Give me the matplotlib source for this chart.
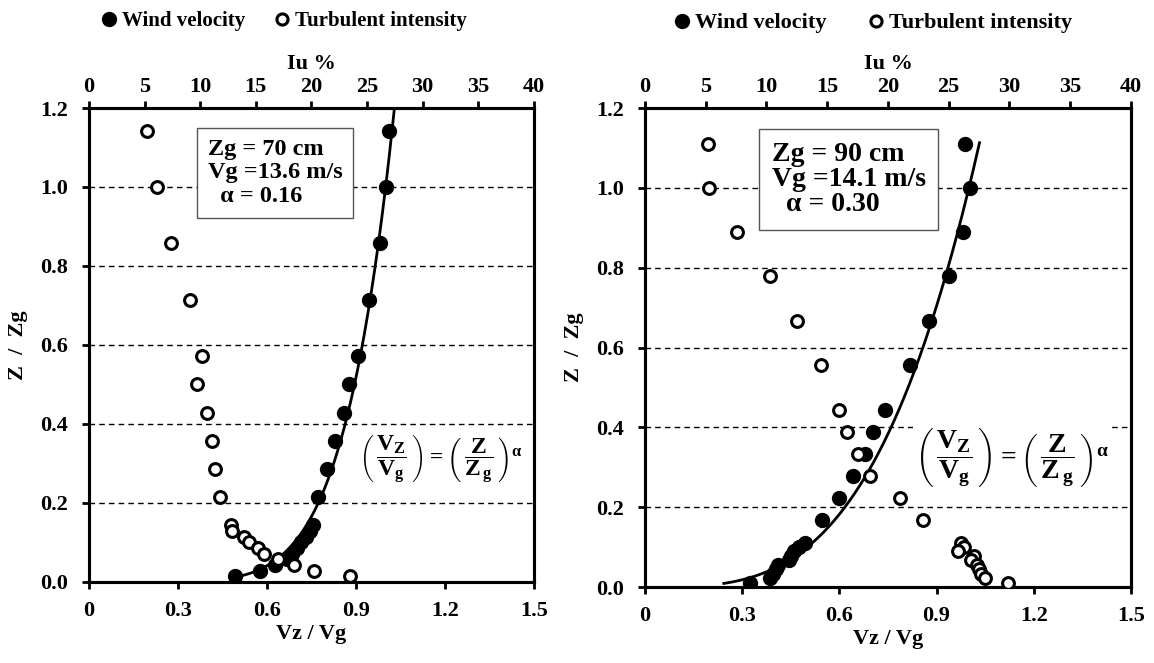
import numpy as np
import matplotlib
matplotlib.use('Agg')
import matplotlib.pyplot as plt
from matplotlib.lines import Line2D

plt.rcParams['font.family'] = 'Liberation Serif'
plt.rcParams['font.weight'] = 'bold'
plt.rcParams['mathtext.fontset'] = 'custom'
plt.rcParams['mathtext.rm'] = 'Liberation Serif:bold'
plt.rcParams['mathtext.it'] = 'Liberation Serif:bold'
plt.rcParams['mathtext.bf'] = 'Liberation Serif:bold'

# ---- left panel: Zg = 70 cm ----
zg70_vel_z = [1.143, 1.0, 0.857, 0.714, 0.571, 0.5, 0.429, 0.357, 0.286, 0.214,
              0.143, 0.129, 0.114, 0.10, 0.086, 0.071, 0.057, 0.043, 0.029, 0.014]
zg70_vel_v = [1.012, 1.001, 0.981, 0.943, 0.906, 0.875, 0.861, 0.830, 0.801, 0.773,
              0.756, 0.745, 0.730, 0.715, 0.700, 0.685, 0.668, 0.627, 0.576, 0.492]
zg70_iu_z = [1.143, 1.0, 0.857, 0.714, 0.571, 0.5, 0.429, 0.357, 0.286, 0.214,
             0.143, 0.129, 0.114, 0.10, 0.086, 0.071, 0.057, 0.043, 0.029, 0.014]
zg70_iu = [5.2, 6.1, 7.4, 9.1, 10.2, 9.7, 10.6, 11.1, 11.3, 11.8,
           12.8, 12.9, 13.9, 14.4, 15.2, 15.7, 17.0, 18.4, 20.2, 23.5]

# ---- right panel: Zg = 90 cm ----
zg90_vel_z = [1.111, 1.0, 0.889, 0.778, 0.667, 0.556, 0.444, 0.389, 0.333, 0.278,
              0.222, 0.167, 0.111, 0.10, 0.089, 0.078, 0.067, 0.056, 0.044, 0.033,
              0.022, 0.011]
zg90_vel_v = [0.988, 1.003, 0.981, 0.939, 0.876, 0.819, 0.741, 0.705, 0.679, 0.643,
              0.600, 0.545, 0.494, 0.475, 0.460, 0.450, 0.445, 0.410, 0.405, 0.396,
              0.385, 0.324]
zg90_iu_z = [1.111, 1.0, 0.889, 0.778, 0.667, 0.556, 0.444, 0.389, 0.333, 0.278,
             0.222, 0.167, 0.111, 0.10, 0.089, 0.078, 0.067, 0.056, 0.044, 0.033,
             0.022, 0.011]
zg90_iu = [5.2, 5.3, 7.6, 10.3, 12.5, 14.5, 16.0, 16.6, 17.5, 18.5,
           21.0, 22.9, 26.0, 26.3, 25.8, 27.1, 26.8, 27.3, 27.5, 27.7,
           28.0, 29.9]

x_ticks = [0, 0.3, 0.6, 0.9, 1.2, 1.5]
x_ticklabels = ['0', '0.3', '0.6', '0.9', '1.2', '1.5']
y_ticks = [0.0, 0.2, 0.4, 0.6, 0.8, 1.0, 1.2]
iu_ticks = [0, 5, 10, 15, 20, 25, 30, 35, 40]


def plot_panel(fig, rect, vel_z, vel_v, iu_z, iu, alpha, z_fit, info,
               leg_xy, leg_fs, leg_sp, eq_xy, eq_fs, box_xy, box_fs, box_ls):
    ax = fig.add_axes(rect)
    ax.set_xlim(0, 1.5)
    ax.set_ylim(0, 1.2)
    for y in y_ticks[1:-1]:
        ax.axhline(y, color='black', lw=1.0, ls=(0, (4, 3)), zorder=1)

    # power-law fit Vz/Vg = (Z/Zg)^alpha
    zz = np.linspace(z_fit[0], z_fit[1], 300)
    ax.plot(zz**alpha, zz, 'k-', lw=2.0, zorder=2)
    ax.plot(vel_v, vel_z, 'o', color='black', ms=10, zorder=3)

    ax.set_xticks(x_ticks)
    ax.set_xticklabels(x_ticklabels)
    ax.set_yticks(y_ticks)
    ax.set_yticklabels(['%.1f' % y for y in y_ticks])
    ax.tick_params(axis='x', direction='out', length=5, width=2, pad=9, labelsize=16)
    ax.tick_params(axis='y', direction='out', length=5, width=2, pad=10, labelsize=16)
    ax.set_xlabel('Vz / Vg', fontsize=16, fontweight='bold', labelpad=2)
    ax.set_ylabel('Z  /  Zg', fontsize=16, fontweight='bold', labelpad=9)
    for s in ax.spines.values():
        s.set_linewidth(2.2)

    ax2 = ax.twiny()
    ax2.set_xlim(0, 40)
    ax2.set_xticks(iu_ticks)
    ax2.tick_params(axis='x', direction='out', length=5, width=2, pad=3, labelsize=16)
    ax2.set_xlabel('Iu %', fontsize=16, fontweight='bold', labelpad=6)
    ax2.plot(iu, iu_z, 'o', mfc='white', mec='black', mew=2.2, ms=8.5, zorder=4)
    for s in ax2.spines.values():
        s.set_linewidth(2.2)

    ax2.text(box_xy[0], box_xy[1], info, transform=ax.transAxes, fontsize=box_fs,
             fontweight='bold', va='top', ha='left', linespacing=box_ls,
             bbox=dict(boxstyle='square,pad=0.45', fc='white', ec='#555555', lw=1))
    ax2.text(eq_xy[0], eq_xy[1],
             r'$\left(\,\dfrac{V_{Z}}{V_{g}}\,\right) = \left(\,\dfrac{Z}{Z_{\,g}}\,\right)^{\alpha}$',
             transform=ax.transAxes, fontsize=eq_fs, ha='center', va='center',
             bbox=dict(fc='white', ec='none', pad=1))

    handles = [Line2D([], [], ls='none', marker='o', color='black', ms=10),
               Line2D([], [], ls='none', marker='o', mfc='white', mec='black', mew=2.2, ms=8)]
    ax2.legend(handles, ['Wind velocity', 'Turbulent intensity'], ncol=2, frameon=False,
               loc='center', bbox_to_anchor=leg_xy, bbox_transform=ax.transAxes,
               fontsize=leg_fs, handletextpad=0.0, columnspacing=leg_sp, handlelength=1.2)
    return ax


fig = plt.figure(figsize=(11.54, 6.63), dpi=100)
plot_panel(fig, [0.0771, 0.1222, 0.3856, 0.7149], zg70_vel_z, zg70_vel_v, zg70_iu_z, zg70_iu,
           0.16, (0.012, 1.2), 'Zg = 70 cm\nVg =13.6 m/s\n  α = 0.16',
           (0.433, 1.183), 15, 1.2, (0.79, 0.257), 17, (0.267, 0.935), 17.5, 1.15)
plot_panel(fig, [0.5589, 0.1146, 0.4211, 0.7225], zg90_vel_z, zg90_vel_v, zg90_iu_z, zg90_iu,
           0.30, (0.009, 1.113), 'Zg = 90 cm\nVg =14.1 m/s\n  α = 0.30',
           (0.464, 1.177), 16, 1.6, (0.755, 0.271), 20, (0.261, 0.93), 20, 1.02)
plt.savefig('out.png', dpi=100)
plt.close()
